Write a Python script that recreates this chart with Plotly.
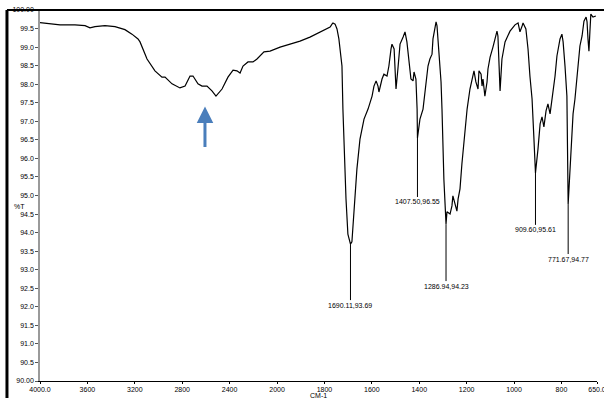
import plotly.graph_objects as go

# ---------------- data ----------------
wavenumber = [4000, 3916, 3831, 3705, 3620, 3578, 3536, 3452, 3367, 3283, 3224, 3173, 3156, 3097, 3030,
              2971, 2945, 2886, 2819, 2776, 2734, 2709, 2667, 2633, 2591, 2549, 2515, 2464, 2414, 2371,
              2338, 2312, 2287, 2245, 2203, 2169, 2144, 2110, 2059, 1987, 1945, 1903, 1861, 1819, 1789,
              1776, 1768, 1764, 1755, 1747, 1739, 1726, 1722, 1717, 1709, 1701, 1690.11, 1684, 1675, 1663,
              1650, 1633, 1616, 1599, 1591, 1582, 1574, 1570, 1557, 1549, 1536, 1528, 1519, 1515, 1506,
              1498, 1490, 1481, 1468, 1460, 1452, 1443, 1435, 1426, 1422, 1414, 1409, 1407.50, 1397, 1384,
              1371, 1363, 1355, 1346, 1342, 1334, 1329, 1325, 1317, 1308, 1304, 1296, 1286.94, 1283, 1270,
              1262, 1258, 1245, 1241, 1236, 1228, 1220, 1207, 1198, 1186, 1173, 1169, 1161, 1152, 1148,
              1139, 1135, 1131, 1123, 1114, 1110, 1101, 1089, 1080, 1072, 1068, 1063, 1059, 1051, 1038,
              1017, 996, 983, 975, 966, 962, 950, 941, 933, 924, 916, 909.60, 899, 890, 882,
              874, 865, 857, 848, 840, 836, 827, 819, 806, 798, 793, 785, 777, 771.67, 760,
              751, 743, 734, 730, 722, 713, 705, 696, 692, 688, 684, 680, 676, 667, 655]

transmittance = [99.66, 99.63, 99.60, 99.60, 99.58, 99.52, 99.55, 99.58, 99.55, 99.47, 99.35, 99.22, 99.14, 98.68, 98.36,
                 98.19, 98.19, 98.01, 97.90, 97.95, 98.22, 98.22, 98.01, 97.95, 97.95, 97.82, 97.68, 97.87, 98.19, 98.38,
                 98.36, 98.30, 98.49, 98.60, 98.60, 98.68, 98.76, 98.87, 98.89, 99.00, 99.08, 99.16, 99.27, 99.41, 99.49,
                 99.54, 99.62, 99.65, 99.62, 99.49, 99.22, 98.49, 97.33, 96.25, 94.91, 93.96, 93.69, 93.75, 94.50, 95.71,
                 96.52, 97.06, 97.33, 97.68, 97.95, 98.09, 97.95, 97.79, 98.14, 98.27, 98.22, 98.49, 98.95, 99.08, 98.95,
                 97.87, 98.41, 99.08, 99.27, 99.41, 99.14, 98.49, 98.14, 98.09, 98.33, 98.14, 97.33, 96.55, 97.06, 97.33,
                 98.06, 98.49, 98.68, 98.81, 99.22, 99.57, 99.68, 99.57, 98.95, 98.06, 97.33, 95.44, 94.23, 94.56, 94.50,
                 94.72, 94.99, 94.69, 94.58, 94.91, 95.18, 95.85, 96.79, 97.33, 97.87, 98.22, 98.36, 98.06, 97.87, 98.36,
                 98.27, 97.95, 98.14, 97.68, 98.06, 98.41, 98.73, 99.00, 99.27, 99.43, 99.30, 98.68, 97.82, 98.68, 99.14,
                 99.43, 99.60, 99.65, 99.41, 99.57, 99.65, 99.49, 98.95, 98.22, 97.60, 96.52, 95.61, 96.25, 96.93, 97.12,
                 96.85, 97.28, 97.47, 97.20, 97.60, 97.68, 98.22, 98.76, 99.22, 99.35, 99.14, 98.49, 97.68, 94.77, 96.25,
                 97.20, 97.60, 98.22, 98.68, 99.03, 99.30, 99.70, 99.81, 99.68, 99.22, 98.89, 99.41, 99.89, 99.81, 99.84]

peak_wn = [1690.11, 1407.50, 1286.94, 909.60, 771.67]
peak_t = [93.69, 96.55, 94.23, 95.61, 94.77]
peak_labels = ["1690.11,93.69", "1407.50,96.55", "1286.94,94.23", "909.60,95.61", "771.67,94.77"]

x_tick_wn = [4000, 3600, 3200, 2800, 2400, 2000, 1800, 1600, 1400, 1200, 1000, 800, 650]
x_tick_text = ["4000.0", "3600", "3200", "2800", "2400", "2000", "1800", "1600", "1400", "1200", "1000", "800", "650.0"]
y_tick_vals = [100, 99.5, 99, 98.5, 98, 97.5, 97, 96.5, 96, 95.5, 95, 94.5, 94, 93.5, 93, 92.5, 92, 91.5, 91, 90.5, 90]
y_tick_text = ["100.00", "99.5", "99.0", "98.5", "98.0", "97.5", "97.0", "96.5", "96.0", "95.5", "95.0", "94.5",
               "94.0", "93.5", "93.0", "92.5", "92.0", "91.5", "91.0", "90.5", "90.00"]

arrow_wn = 2608
arrow_t = 97.40


# Instrument-style axis: scale doubles below 2000 cm-1
def to_axis(w):
    return (4000 - w) if w >= 2000 else 2000 + 2 * (2000 - w)


xs = [to_axis(w) for w in wavenumber]

FONT = "Liberation Sans"
TXT = dict(family=FONT, size=7, color="black")

fig = go.Figure()
fig.add_trace(go.Scatter(x=xs, y=transmittance, mode="lines",
                         line=dict(color="black", width=1.2), hoverinfo="skip", showlegend=False))

annotations = []
offsets = [61, 64, 62, 57, 55]
for w, t, lab, off in zip(peak_wn, peak_t, peak_labels, offsets):
    annotations.append(dict(x=to_axis(w), y=t, xref="x", yref="y", text=lab, showarrow=True,
                            arrowhead=0, arrowwidth=1, arrowcolor="black", ax=0, ay=off, font=TXT))

# blue arrow
annotations.append(dict(x=to_axis(arrow_wn), y=arrow_t, xref="x", yref="y", text="", showarrow=True,
                        arrowhead=2, arrowsize=1.1, arrowwidth=3, arrowcolor="#4A7EBB", ax=0, ay=42,
                        standoff=0))

annotations.append(dict(x=-0.05, y=0.47, xref="paper", yref="paper", text="%T", showarrow=False, font=TXT))
annotations.append(dict(x=0.5, y=0, xref="paper", yref="paper", yshift=-9, text="CM-1", showarrow=False,
                        yanchor="top", font=TXT))

shapes = [
    dict(type="line", xref="paper", yref="paper", x0=-0.0593, x1=1.02, y0=1.0, y1=1.0,
         line=dict(color="black", width=2)),
    dict(type="line", xref="paper", yref="paper", x0=-0.0593, x1=-0.0593, y0=1.0, y1=-0.06,
         line=dict(color="black", width=3)),
]

fig.update_layout(
    width=604, height=398,
    margin=dict(l=40, r=7, t=10, b=17, autoexpand=False),
    paper_bgcolor="white", plot_bgcolor="white",
    font=TXT,
    annotations=annotations, shapes=shapes,
    xaxis=dict(range=[0, 4700], tickvals=[to_axis(w) for w in x_tick_wn], ticktext=x_tick_text,
               showgrid=False, zeroline=False, showline=True, linecolor="black", linewidth=1,
               ticks="outside", ticklen=2, tickcolor="black", tickfont=TXT,
               automargin=False, ticklabeloverflow="allow"),
    yaxis=dict(range=[90, 100], tickvals=y_tick_vals, ticktext=y_tick_text,
               showgrid=False, zeroline=False, showline=True, linecolor="#9a9a9a", linewidth=1.5,
               ticks="outside", ticklen=3, tickcolor="#555555", tickfont=TXT,
               automargin=False, ticklabeloverflow="allow"),
)

fig.write_html("out.html", config={"displayModeBar": False},
               post_script="document.body.style.margin='0';document.body.style.overflow='hidden';")
